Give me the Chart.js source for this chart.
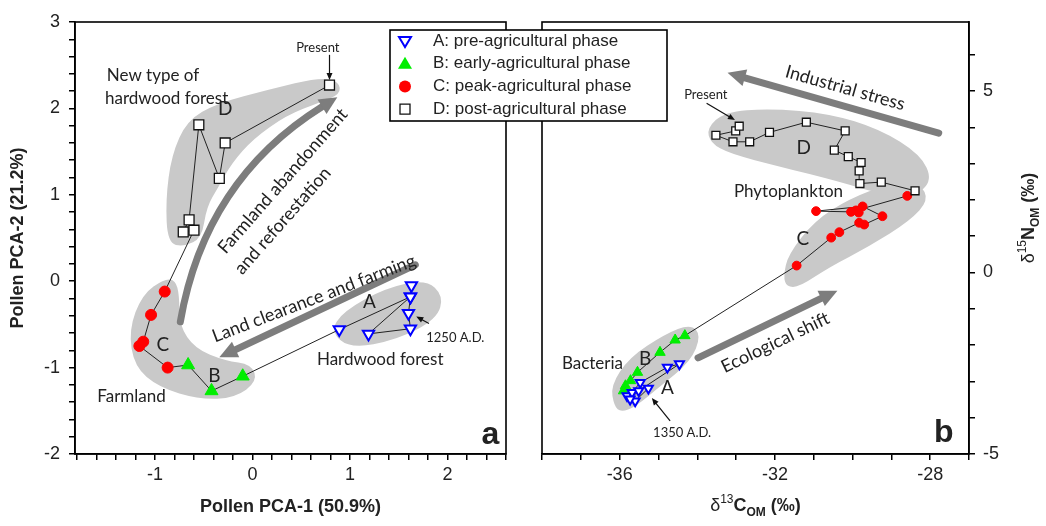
<!DOCTYPE html>
<html>
<head>
<meta charset="utf-8">
<script src="https://cdn.jsdelivr.net/npm/chart.js@4.4.1/dist/chart.umd.min.js"></script>
<style>
  html, body { margin: 0; padding: 0; background: #fff; }
  #wrap { position: relative; width: 1046px; height: 526px; }
  #wrap canvas { position: absolute; left: 0; top: 0; }
</style>
</head>
<body>
<div id="wrap">
  <canvas id="panelA" width="1046" height="526"></canvas>
  <canvas id="panelB" width="1046" height="526"></canvas>
</div>
<script>
// ---- panel a: pollen PCA scores [PCA-1, PCA-2], oldest sample first
const pollenA = [[1.63,-0.05],[1.62,-0.18],[1.60,-0.37],[1.62,-0.55],[1.19,-0.61],[1.62,-0.18],[0.89,-0.56]];
const pollenB = [[-0.10,-1.10],[-0.42,-1.27],[-0.66,-0.97]];
const pollenC = [[-0.87,-1.00],[-1.16,-0.75],[-1.12,-0.70],[-1.04,-0.39],[-0.90,-0.12]];
const pollenD = [[-0.60,0.59],[-0.71,0.57],[-0.65,0.71],[-0.55,1.81],[-0.34,1.19],[-0.28,1.60],[0.79,2.27]];

// ---- panel b: bulk organic matter isotopes [d13C, d15N], oldest sample first
const isoA = [[-35.26,-3.19],[-35.60,-3.54],[-35.81,-3.40],[-35.68,-3.31],[-35.47,-3.03],[-34.77,-2.61],[-34.46,-2.52],[-35.51,-3.26],[-35.73,-3.49]];
const isoB = [[-35.90,-3.26],[-35.85,-3.12],[-35.72,-2.98],[-35.54,-2.75],[-34.96,-2.20],[-34.57,-1.86],[-34.32,-1.74]];
const isoC = [[-31.44,0.19],[-30.55,0.96],[-30.34,1.11],[-29.83,1.37],[-29.70,1.32],[-29.23,1.55],[-29.74,1.82],[-30.94,1.69],[-30.04,1.67],[-29.84,1.65],[-29.91,1.71],[-28.59,2.11]];
const isoD = [[-28.39,2.25],[-29.26,2.49],[-29.81,2.45],[-29.83,2.80],[-29.78,3.03],[-30.11,3.19],[-30.47,3.37],[-30.19,3.90],[-31.19,4.14],[-32.14,3.86],[-32.65,3.60],[-33.08,3.60],[-33.52,3.78],[-33.01,3.90],[-32.92,4.03]];

const phaseNames = ['A: pre-agricultural phase', 'B: early-agricultural phase', 'C: peak-agricultural phase', 'D: post-agricultural phase'];

// tick labels
const pcaXLabels = [-1, 0, 1, 2];
const pcaYLabels = [-2, -1, 0, 1, 2, 3];
const cLabels = [-36, -32, -28];
const nLabels = [-5, 0, 5];

const AXIS_FONT = '"Liberation Sans", Arial, sans-serif';
const NOTE_FONT = 'Lato, "Open Sans", sans-serif';
const SHADE = '#c9c9c9';
const ARROW = '#7d7d7d';
const INK = '#222';

const toXY = arr => arr.map(([x, y]) => ({ x, y }));

function stepTicks(min, max, step) {
  const out = [];
  const first = Math.ceil(min / step - 1e-9);
  for (let k = first; k * step <= max + 1e-9; k++) out.push({ value: Math.round(k * step * 1000) / 1000 });
  return out;
}

function pix(chart, p) {
  return [chart.scales.x.getPixelForValue(p[0]), chart.scales.y.getPixelForValue(p[1])];
}

function drawBlob(ctx, p) {
  const n = p.length;
  const mid = i => { const a = p[i % n], b = p[(i + 1) % n]; return [(a[0] + b[0]) / 2, (a[1] + b[1]) / 2]; };
  ctx.beginPath();
  let m = mid(0);
  ctx.moveTo(m[0], m[1]);
  for (let i = 1; i <= n; i++) {
    const c = p[i % n];
    m = mid(i);
    ctx.quadraticCurveTo(c[0], c[1], m[0], m[1]);
  }
  ctx.closePath();
  ctx.fillStyle = SHADE;
  ctx.fill();
}

function drawThick(ctx, a, c, b) {
  const head = 18, half = 8.5;
  const d = c ? [b[0] - c[0], b[1] - c[1]] : [b[0] - a[0], b[1] - a[1]];
  const L = Math.hypot(d[0], d[1]);
  const ux = d[0] / L, uy = d[1] / L;
  const base = [b[0] - ux * head, b[1] - uy * head];
  ctx.strokeStyle = ARROW;
  ctx.lineWidth = 7;
  ctx.lineCap = 'round';
  ctx.beginPath();
  ctx.moveTo(a[0], a[1]);
  if (c) ctx.quadraticCurveTo(c[0], c[1], base[0], base[1]);
  else ctx.lineTo(base[0], base[1]);
  ctx.stroke();
  ctx.fillStyle = ARROW;
  ctx.beginPath();
  ctx.moveTo(b[0], b[1]);
  ctx.lineTo(base[0] - uy * half, base[1] + ux * half);
  ctx.lineTo(base[0] + uy * half, base[1] - ux * half);
  ctx.closePath();
  ctx.fill();
}

function drawPointer(ctx, a, b) {
  const ux = (b[0] - a[0]) / Math.hypot(b[0] - a[0], b[1] - a[1]);
  const uy = (b[1] - a[1]) / Math.hypot(b[0] - a[0], b[1] - a[1]);
  ctx.strokeStyle = '#111';
  ctx.lineWidth = 1.2;
  ctx.beginPath();
  ctx.moveTo(a[0], a[1]);
  ctx.lineTo(b[0] - ux * 5, b[1] - uy * 5);
  ctx.stroke();
  ctx.fillStyle = '#111';
  ctx.beginPath();
  ctx.moveTo(b[0], b[1]);
  ctx.lineTo(b[0] - ux * 7 - uy * 3, b[1] - uy * 7 + ux * 3);
  ctx.lineTo(b[0] - ux * 7 + uy * 3, b[1] - uy * 7 - ux * 3);
  ctx.closePath();
  ctx.fill();
}

function drawNote(ctx, chart, n) {
  const [x, y] = pix(chart, n.at);
  ctx.save();
  ctx.translate(x, y);
  ctx.rotate((n.rot || 0) * Math.PI / 180);
  ctx.font = n.font || ('17px ' + NOTE_FONT);
  ctx.fillStyle = INK;
  ctx.textAlign = 'center';
  ctx.textBaseline = 'middle';
  ctx.fillText(n.t, 0, 0);
  ctx.restore();
}

function richText(ctx, parts, cx, cy, rot) {
  ctx.save();
  ctx.translate(cx, cy);
  ctx.rotate(rot);
  let w = 0;
  parts.forEach(p => { ctx.font = p.font; p.w = ctx.measureText(p.t).width; w += p.w; });
  let x = -w / 2;
  ctx.fillStyle = INK;
  ctx.textAlign = 'left';
  ctx.textBaseline = 'alphabetic';
  parts.forEach(p => { ctx.font = p.font; ctx.fillText(p.t, x, 6 + (p.dy || 0)); x += p.w; });
  ctx.restore();
}

function marker(ctx, style, x, y) {
  ctx.save();
  ctx.beginPath();
  if (style === 'A') {
    ctx.moveTo(x - 6, y - 4); ctx.lineTo(x + 6, y - 4); ctx.lineTo(x, y + 6); ctx.closePath();
    ctx.fillStyle = '#fff'; ctx.fill(); ctx.strokeStyle = '#0000ff'; ctx.lineWidth = 2; ctx.stroke();
  } else if (style === 'B') {
    ctx.moveTo(x, y - 7); ctx.lineTo(x + 7, y + 5); ctx.lineTo(x - 7, y + 5); ctx.closePath();
    ctx.fillStyle = '#00ee00'; ctx.fill();
  } else if (style === 'C') {
    ctx.arc(x, y, 6, 0, Math.PI * 2);
    ctx.fillStyle = '#ff0000'; ctx.fill();
  } else {
    ctx.rect(x - 5, y - 5, 10, 10);
    ctx.fillStyle = '#fff'; ctx.fill(); ctx.strokeStyle = '#111'; ctx.lineWidth = 1.3; ctx.stroke();
  }
  ctx.restore();
}

function notesPlugin(notes) {
  return {
    id: 'notes',
    beforeDatasetsDraw(chart) {
      const ctx = chart.ctx;
      ctx.save();
      notes.blobs.forEach(b => drawBlob(ctx, b.map(p => pix(chart, p))));
      notes.arrows.forEach(a => drawThick(ctx, pix(chart, a.from), a.ctrl ? pix(chart, a.ctrl) : null, pix(chart, a.to)));
      ctx.restore();
    },
    afterDatasetsDraw(chart) {
      const ctx = chart.ctx;
      const { left, top, width, height } = chart.chartArea;
      ctx.save();
      ctx.strokeStyle = '#000';
      ctx.lineWidth = 1.6;
      ctx.strokeRect(left, top, width, height);
      notes.pointers.forEach(p => drawPointer(ctx, pix(chart, p.from), pix(chart, p.to)));
      notes.texts.forEach(n => drawNote(ctx, chart, n));
      ctx.restore();
    }
  };
}

function phaseSets(a, b, c, d, small) {
  const k = small ? 0.8 : 1;
  const path = [...a, ...b, ...c, ...d];
  return [
    { data: toXY(path), showLine: true, borderColor: '#222', borderWidth: 1, pointRadius: 0, order: 5 },
    { data: toXY(a), pointStyle: 'triangle', pointRotation: 180, pointRadius: 6.5 * k, pointBackgroundColor: '#fff', pointBorderColor: '#0000ff', pointBorderWidth: 2, order: 1 },
    { data: toXY(b), pointStyle: 'triangle', pointRadius: 7.5 * k, pointBackgroundColor: '#00ee00', pointBorderColor: '#00ee00', pointBorderWidth: 1, order: 1 },
    { data: toXY(c), pointStyle: 'circle', pointRadius: 5.5 * k, pointBackgroundColor: '#ff0000', pointBorderColor: '#ff0000', pointBorderWidth: 1, order: 1 },
    { data: toXY(d), pointStyle: 'rect', pointRadius: 7 * k, pointBackgroundColor: '#fff', pointBorderColor: '#111', pointBorderWidth: 1.3, order: 0 }
  ];
}

function axis(min, max, step, labels, pad, extra) {
  return Object.assign({
    type: 'linear', min, max,
    afterBuildTicks: s => { s.ticks = stepTicks(min, max, step); },
    ticks: {
      autoSkip: false, maxRotation: 0, padding: pad, color: INK,
      font: { family: AXIS_FONT, size: 18 },
      callback: v => labels.some(l => Math.abs(l - v) < 1e-6) ? String(Math.round(v)) : ''
    },
    grid: { drawOnChartArea: false, drawTicks: true, tickLength: 6, color: '#000', lineWidth: 1.5 },
    border: { display: true, color: '#000', width: 1.6 }
  }, extra);
}

// ---------------- panel a ----------------
const notesA = {
  blobs: [
    [[0.80,-0.58],[1.00,-0.78],[1.48,-0.68],[1.89,-0.44],[1.96,-0.17],[1.78,0.02],[1.36,-0.08],[0.93,-0.35]],
    [[-0.90,0.03],[-1.13,-0.15],[-1.27,-0.57],[-1.21,-0.99],[-0.96,-1.23],[-0.54,-1.37],[-0.18,-1.35],[0.05,-1.16],[-0.01,-0.96],[-0.28,-0.92],[-0.59,-0.78],[-0.75,-0.51],[-0.75,-0.16],[-0.79,0.01]],
    [[0.89,2.31],[0.69,2.36],[0.18,2.22],[-0.36,2.06],[-0.67,1.86],[-0.83,1.46],[-0.89,0.94],[-0.87,0.44],[-0.70,0.40],[-0.52,0.50],[-0.47,0.86],[-0.35,1.09],[-0.21,1.37],[0.01,1.65],[0.35,1.92],[0.69,2.07],[0.90,2.16]]
  ],
  arrows: [
    { from: [-0.74,-0.47], ctrl: [-0.49,1.17], to: [0.87,2.13] },
    { from: [1.67,0.19], to: [-0.34,-0.88] }
  ],
  pointers: [
    { from: [0.79,2.62], to: [0.79,2.33] },
    { from: [1.81,-0.49], to: [1.68,-0.41] }
  ],
  texts: [
    { t: 'Present', at: [0.67,2.70], font: '13px ' + NOTE_FONT },
    { t: 'New type of', at: [-1.02,2.38] },
    { t: 'hardwood forest', at: [-0.88,2.12] },
    { t: 'D', at: [-0.28,2.00], font: '19px ' + NOTE_FONT },
    { t: 'Farmland abandonment', at: [0.31,1.16], rot: -48.7, font: '18px ' + NOTE_FONT },
    { t: 'and reforestation', at: [0.31,0.70], rot: -48.7, font: '18px ' + NOTE_FONT },
    { t: 'Land clearance and farming', at: [0.63,-0.20], rot: -20.9, font: '18px ' + NOTE_FONT },
    { t: 'A', at: [1.20,-0.24], font: '19px ' + NOTE_FONT },
    { t: '1250 A.D.', at: [2.08,-0.65], font: '13px ' + NOTE_FONT },
    { t: 'Hardwood forest', at: [1.31,-0.91] },
    { t: 'C', at: [-0.92,-0.74], font: '19px ' + NOTE_FONT },
    { t: 'B', at: [-0.39,-1.10], font: '19px ' + NOTE_FONT },
    { t: 'Farmland', at: [-1.24,-1.34] },
    { t: 'a', at: [2.44,-1.78], font: 'bold 32px ' + AXIS_FONT }
  ]
};

new Chart(document.getElementById('panelA'), {
  type: 'scatter',
  data: { datasets: phaseSets(pollenA, pollenB, pollenC, pollenD, false) },
  options: {
    responsive: false, animation: false, events: [],
    layout: { padding: { left: 0, top: 22, right: 540, bottom: 0 } },
    plugins: { legend: { display: false }, tooltip: { enabled: false } },
    scales: {
      x: axis(-1.82, 2.6, 0.2, pcaXLabels, 4, {
        afterFit: s => { s.height = 72; },
        title: { display: true, text: 'Pollen PCA-1 (50.9%)', color: INK, font: { family: AXIS_FONT, size: 18, weight: 'bold' }, padding: { top: 0, bottom: 8 } }
      }),
      y: axis(-2, 3, 0.2, pcaYLabels, 9, {
        afterFit: s => { s.width = 75; },
        title: { display: true, text: 'Pollen PCA-2 (21.2%)', color: INK, font: { family: AXIS_FONT, size: 18, weight: 'bold' }, padding: { top: 7, bottom: 0 } }
      })
    }
  },
  plugins: [notesPlugin(notesA)]
});

// ---------------- panel b ----------------
const notesB = {
  blobs: [
    [[-33.75,3.98],[-33.30,4.42],[-32.14,4.52],[-30.60,4.38],[-29.30,3.95],[-28.25,3.25],[-27.94,2.54],[-28.40,2.09],[-29.32,2.17],[-30.34,2.50],[-31.88,2.92],[-33.16,3.27],[-33.66,3.57]],
    [[-31.78,-0.10],[-31.66,0.49],[-30.98,1.42],[-30.08,2.03],[-29.06,2.44],[-28.25,2.44],[-28.04,1.99],[-28.52,1.42],[-29.58,0.71],[-30.60,0.15],[-31.37,-0.40],[-31.70,-0.40]],
    [[-36.14,-3.69],[-36.23,-3.12],[-35.75,-2.34],[-34.83,-1.70],[-34.17,-1.42],[-33.90,-1.74],[-34.17,-2.45],[-34.96,-3.14],[-35.60,-3.70],[-35.96,-3.85]]
  ],
  arrows: [
    { from: [-27.78,3.84], to: [-33.22,5.50] },
    { from: [-33.98,-2.35], to: [-30.39,-0.50] }
  ],
  pointers: [
    { from: [-33.76,4.66], to: [-33.03,4.20] },
    { from: [-34.70,-4.09], to: [-35.17,-3.46] }
  ],
  texts: [
    { t: 'Present', at: [-33.78,4.89], font: '13px ' + NOTE_FONT },
    { t: 'Industrial stress', at: [-30.19,5.08], rot: 15.8, font: '18px ' + NOTE_FONT },
    { t: 'D', at: [-31.26,3.42], font: '19px ' + NOTE_FONT },
    { t: 'Phytoplankton', at: [-31.65,2.22] },
    { t: 'C', at: [-31.28,0.93], font: '19px ' + NOTE_FONT },
    { t: 'Ecological shift', at: [-31.99,-1.93], rot: -25.6, font: '18px ' + NOTE_FONT },
    { t: 'Bacteria', at: [-36.70,-2.52] },
    { t: 'B', at: [-35.34,-2.38], font: '19px ' + NOTE_FONT },
    { t: 'A', at: [-34.77,-3.19], font: '19px ' + NOTE_FONT },
    { t: '1350 A.D.', at: [-34.39,-4.42], font: '13px ' + NOTE_FONT },
    { t: 'b', at: [-27.65,-4.42], font: 'bold 32px ' + AXIS_FONT }
  ]
};

const frameB = {
  id: 'frameB',
  afterDraw(chart) {
    const ctx = chart.ctx;
    const { left, right, top, bottom } = chart.chartArea;
    // axis titles with super/subscripts
    richText(ctx, [
      { t: '\u03B4', font: '18px ' + AXIS_FONT },
      { t: '13', font: '12px ' + AXIS_FONT, dy: -8 },
      { t: 'C', font: 'bold 18px ' + AXIS_FONT },
      { t: 'OM', font: 'bold 12px ' + AXIS_FONT, dy: 5 },
      { t: ' (\u2030)', font: 'bold 18px ' + AXIS_FONT }
    ], (left + right) / 2, 505, 0);
    richText(ctx, [
      { t: '\u03B4', font: '18px ' + AXIS_FONT },
      { t: '15', font: '12px ' + AXIS_FONT, dy: -8 },
      { t: 'N', font: 'bold 18px ' + AXIS_FONT },
      { t: 'OM', font: 'bold 12px ' + AXIS_FONT, dy: 5 },
      { t: ' (\u2030)', font: 'bold 18px ' + AXIS_FONT }
    ], 1028, (top + bottom) / 2 - 20, -Math.PI / 2);
    // legend box spanning both panels
    const bx = 390, by = 30, bw = 277, bh = 91;
    ctx.save();
    ctx.fillStyle = '#fff';
    ctx.fillRect(bx, by, bw, bh);
    ctx.strokeStyle = '#000';
    ctx.lineWidth = 1.6;
    ctx.strokeRect(bx, by, bw, bh);
    ctx.font = '17px ' + AXIS_FONT;
    ctx.fillStyle = INK;
    ctx.textBaseline = 'middle';
    ctx.textAlign = 'left';
    ['A', 'B', 'C', 'D'].forEach((s, i) => {
      const y = by + 11 + i * 22.7;
      marker(ctx, s, 405, y);
      ctx.fillText(phaseNames[i], 433, y);
    });
    ctx.restore();
  }
};

new Chart(document.getElementById('panelB'), {
  type: 'scatter',
  data: { datasets: phaseSets(isoA, isoB, isoC, isoD, true) },
  options: {
    responsive: false, animation: false, events: [],
    layout: { padding: { left: 542, top: 22, right: 0, bottom: 0 } },
    plugins: { legend: { display: false }, tooltip: { enabled: false } },
    scales: {
      x: axis(-38, -27, 1, cLabels, 4, { afterFit: s => { s.height = 72; } }),
      y: axis(-5, 6.9, 1, nLabels, 8, { position: 'right', afterFit: s => { s.width = 77; } })
    }
  },
  plugins: [notesPlugin(notesB), frameB]
});
</script>
</body>
</html>
